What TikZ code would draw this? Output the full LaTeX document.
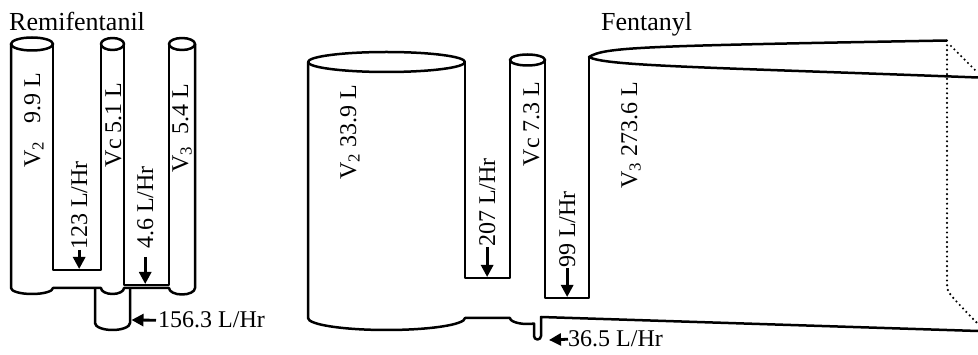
\documentclass[tikz,border=0pt]{standalone}
\usepackage{fontspec}
\setmainfont{Liberation Serif}
\usetikzlibrary{arrows.meta}

\tikzset{tube/.style = {line width=2.5pt, line join=round},
         hidden/.style = {line width=2.4pt, line cap=round, dash pattern=on 0pt off 4.8pt},
         flow/.style = {-{Triangle[length=12pt, width=12pt]}, line width=2.8pt},
         lbl/.style = {inner sep=0pt, font=\fontsize{24}{28}\selectfont},
         vlbl/.style = {lbl, rotate=90},
         ttl/.style = {inner sep=0pt, anchor=base west, font=\fontsize{26}{30}\selectfont}
        }

\begin{document}
\begin{tikzpicture}[x=1pt, y=-1pt]
  \useasboundingbox (0,0) rectangle (978,355);
  % Remifentanil
  \node[ttl] (rtitle) at (9,31) {Remifentanil};
  \draw[tube] (32,44) ellipse [x radius=21, y radius=6.5];
  \draw[tube] (112.5,44) ellipse [x radius=11.5, y radius=6];
  \draw[tube] (182,44) ellipse [x radius=13, y radius=6];
  \draw[tube] (11,44) -- (11,288) arc [start angle=180, end angle=0, x radius=21, y radius=6]
        -- (101,288) arc [start angle=180, end angle=0, x radius=11.5, y radius=6]
        -- (169,288) arc [start angle=180, end angle=0, x radius=13, y radius=6.5] -- (195,44);
  \draw[tube] (53,44) -- (53,270) -- (101,270) -- (101,44);
  \draw[tube] (124,44) -- (124,285) -- (169,285) -- (169,44);
  \draw[tube] (95,288) -- (95,323) arc [start angle=180, end angle=0, x radius=17.5, y radius=7] -- (130,288);
  \node[vlbl, anchor=base] (r2) at (40,120) {V\textsubscript{2}\hspace{12pt} 9.9 L};
  \node[vlbl, anchor=base] (rc) at (121,125) {Vc 5.1 L};
  \node[vlbl, anchor=base] (r3) at (188,128) {V\textsubscript{3}\hspace{6pt} 5.4 L};
  \node[vlbl, anchor=base west] (r123) at (87,250) {123 L/Hr};
  \node[vlbl, anchor=base west] (r46) at (153,249) {4.6 L/Hr};
  \node[lbl, anchor=base west] (r156) at (158,328) {156.3 L/Hr};
  \coordinate (r123t) at (81,269);
  \coordinate (r46t) at (145,284);
  \coordinate (r156t) at (131.5,320);
  \draw[flow] (r123.west) -- (r123.west |- r123t);
  \draw[flow, shorten <=8pt] (r46.west) -- (r46.west |- r46t);
  \draw[flow, shorten <=2pt] (r156.west) -- (r156t);
  % Fentanyl
  \node[ttl] (ftitle) at (601,31) {Fentanyl};
  \draw[tube] (386.5,62) ellipse [x radius=78.5, y radius=10];
  \draw[tube] (527.5,60) ellipse [x radius=17.5, y radius=5.5];
  \draw[tube] (308,62) -- (308,318) arc [start angle=180, end angle=0, x radius=78.5, y radius=12]
        -- (510,318) arc [start angle=180, end angle=68, x radius=17.5, y radius=6]
        -- (534,336) arc [start angle=180, end angle=0, radius=3.5] -- (541,317) -- (978,331);
  \draw[tube] (465,62) -- (465,278) -- (510,278) -- (510,60);
  \draw[tube] (545,60) -- (545,298) -- (589,298) -- (589,57);
  \draw[tube] (947,40.5) .. controls (640,46) and (605,47) .. (589,57)
        .. controls (605,66) and (700,67) .. (978,77.5);
  \draw[hidden] (947,40.5) -- (947,284) .. controls (947,292) .. (978,324);
  \draw[hidden] (951,46) -- (978,73);
  \node[vlbl, anchor=base] (f2) at (356,132) {V\textsubscript{2} 33.9 L};
  \node[vlbl, anchor=base] (fc) at (539,124) {Vc 7.3 L};
  \node[vlbl, anchor=base] (f3) at (637,135) {V\textsubscript{3} 273.6 L};
  \node[vlbl, anchor=base west] (f207) at (495,247) {207 L/Hr};
  \node[vlbl, anchor=base west] (f99) at (575,268) {99 L/Hr};
  \node[lbl, anchor=base west] (f365) at (568,347) {36.5 L/Hr};
  \coordinate (f207t) at (486,277);
  \coordinate (f99t) at (567,297);
  \coordinate (f365t) at (549,340);
  \draw[flow] (f207.west) -- (f207.west |- f207t);
  \draw[flow] (f99.west) -- (f99.west |- f99t);
  \draw[flow] (f365.west) -- (f365t);
\end{tikzpicture}
\end{document}
